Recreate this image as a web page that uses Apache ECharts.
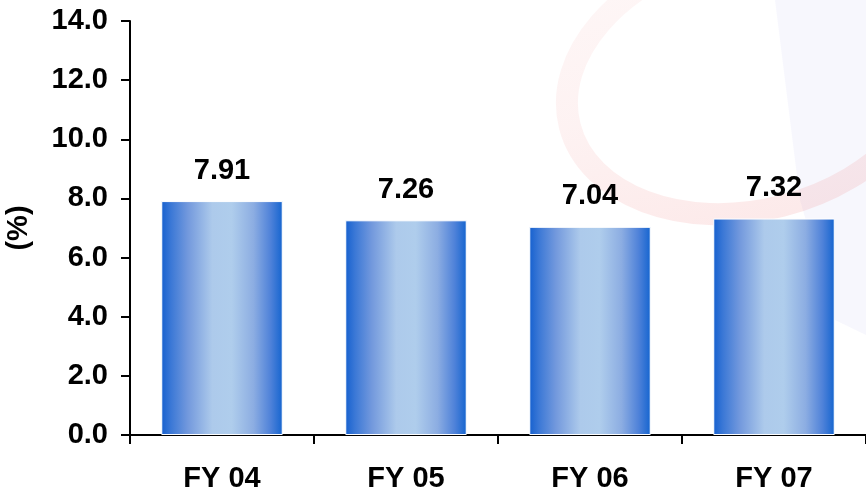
<!DOCTYPE html>
<html>
<head>
<meta charset="utf-8">
<script src="https://cdn.jsdelivr.net/npm/echarts@6/dist/echarts.min.js"></script>
<style>
html,body{margin:0;padding:0;background:#fff;}
#chart{width:866px;height:492px;}
</style>
</head>
<body>
<div id="chart"></div>
<script>
var categories = ['FY 04', 'FY 05', 'FY 06', 'FY 07'];
var values = [7.91, 7.26, 7.04, 7.32];
var yTicks = { min: 0, max: 14, interval: 2 };

var font = '"Liberation Sans", Arial, sans-serif';
var chart = echarts.init(document.getElementById('chart'), null, { renderer: 'canvas' });

var barGradient = new echarts.graphic.LinearGradient(0, 0, 1, 0, [
  { offset: 0, color: '#1560cf' },
  { offset: 0.08, color: '#3b78d6' },
  { offset: 0.22, color: '#7399dd' },
  { offset: 0.42, color: '#adcaeb' },
  { offset: 0.58, color: '#afcdec' },
  { offset: 0.76, color: '#8cade2' },
  { offset: 0.9, color: '#4f82d9' },
  { offset: 1, color: '#1464cf' }
]);

var arcGradient = new echarts.graphic.LinearGradient(0, 0, 0, 1, [
  { offset: 0, color: 'rgba(235,90,90,0.05)' },
  { offset: 0.5, color: 'rgba(235,90,90,0.08)' },
  { offset: 1, color: 'rgba(235,90,90,0.13)' }
]);

chart.setOption({
  backgroundColor: '#ffffff',
  animation: false,
  graphic: [
    {
      type: 'polygon', silent: true, z: -11,
      shape: { points: [[775, 0], [866, 0], [866, 335], [835, 320], [800, 200]] },
      style: { fill: 'rgba(200,200,240,0.14)' }
    },
    {
      type: 'group', x: 750, y: 80, rotation: 0.25, silent: true, z: -10,
      children: [{
        type: 'ellipse',
        shape: { cx: 0, cy: 0, rx: 186, ry: 130 },
        style: { stroke: arcGradient, lineWidth: 22, fill: null }
      }]
    }
  ],
  grid: { left: 130, right: 0, top: 21, bottom: 57, containLabel: false, outerBoundsMode: 'none' },
  xAxis: {
    type: 'category',
    data: categories,
    boundaryGap: true,
    axisLine: { show: true, lineStyle: { color: '#000', width: 2 } },
    axisTick: { show: true, length: 9, lineStyle: { color: '#000', width: 2 } },
    axisLabel: { color: '#000', fontSize: 29, fontWeight: 'bold', fontFamily: font, margin: 29 }
  },
  yAxis: {
    type: 'value',
    min: yTicks.min, max: yTicks.max, interval: yTicks.interval,
    name: '(%)',
    nameLocation: 'middle',
    nameRotate: 90,
    nameGap: 97,
    nameTextStyle: { color: '#000', fontSize: 29, fontWeight: 'bold', fontFamily: font },
    axisLine: { show: true, lineStyle: { color: '#000', width: 2 } },
    axisTick: { show: true, length: 9, lineStyle: { color: '#000', width: 2 } },
    splitLine: { show: false },
    axisLabel: {
      color: '#000', fontSize: 29, fontWeight: 'bold', fontFamily: font, margin: 22,
      formatter: function (v) { return v.toFixed(1); }
    }
  },
  series: [{
    type: 'bar',
    data: values,
    barWidth: '66%',
    itemStyle: { color: barGradient, borderColor: '#ffffff', borderWidth: 1 },
    label: {
      show: true, position: 'top', distance: 16,
      color: '#000', fontSize: 29, fontWeight: 'bold', fontFamily: font,
      formatter: function (p) { return p.value.toFixed(2); }
    }
  }]
});
</script>
</body>
</html>
